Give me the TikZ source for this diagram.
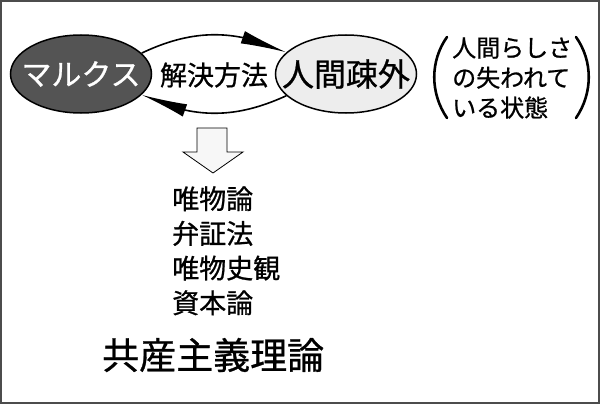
\documentclass[tikz,border=0pt]{standalone}
\usepackage{fontspec}
\setmainfont{Noto Sans CJK JP}[FakeBold=0.8]
\usetikzlibrary{arrows.meta,bending,shapes.geometric,positioning}

\tikzset{
    bubble/.style={ellipse, draw=black, line width=1.5pt, inner sep=0pt,
        minimum width=141, minimum height=78},
    loop/.style={line width=1.6pt, -{Latex[length=46pt,width=13pt]}},
    txt/.style={inner sep=0pt, font=\fontsize{#1}{#1}\selectfont},
}

\begin{document}
\begin{tikzpicture}[x=1pt, y=-1pt]
    % Frame
    \useasboundingbox (0,0) rectangle (600,404);
    \draw[black!70, line width=1.5pt] (1,1) rectangle (599,403);

    % Ellipses
    \node[bubble, fill=black!67, text=white, txt=30] (marx) at (81,74) {\makebox[0pt]{マルクス}};
    \node[bubble, fill=black!7, txt=32] (sogai) at (346,74) {\makebox[0pt]{人間疎外}};
    \node[txt=27] (method) at (214,75) {解決方法};

    % Arcs between them
    \draw[loop] (marx.19) to[bend left=25] (sogai.160);
    \draw[loop] (sogai.-160) to[bend left=25] (marx.-19);

    % Bracketed note
    \node[inner sep=0pt, align=left, anchor=west, font=\fontsize{24}{30}\selectfont] (state) at (452,78)
        {人間らしさ\\の失われて\\いる状態};
    \coordinate (lp) at (447,77);
    \coordinate (rp) at (576,77);
    \draw[line width=2.6pt, line cap=round] ([yshift=-41]lp) .. controls ([xshift=-17,yshift=-16]lp) and ([xshift=-17,yshift=16]lp) .. ([yshift=40]lp);
    \draw[line width=2.6pt, line cap=round] ([yshift=-41]rp) .. controls ([xshift=17,yshift=-16]rp) and ([xshift=17,yshift=16]rp) .. ([yshift=40]rp);

    % Down arrow
    \draw[line width=0.8pt, fill=black!3] (197,128) -- (227,128) -- (227,152) -- (243,152)
        -- (213,173) -- (183,152) -- (197,152) -- cycle;

    % List
    \foreach \t [count=\i] in {唯物論, 弁証法, 唯物史観, 資本論} {
        \node[txt=27, anchor=west] (item\i) at (172, 164 + 34.7*\i) {\t};
    }

    % Result
    \node[txt=37, anchor=west] (theory) at (102,355) {共産主義理論};
\end{tikzpicture}
\end{document}
